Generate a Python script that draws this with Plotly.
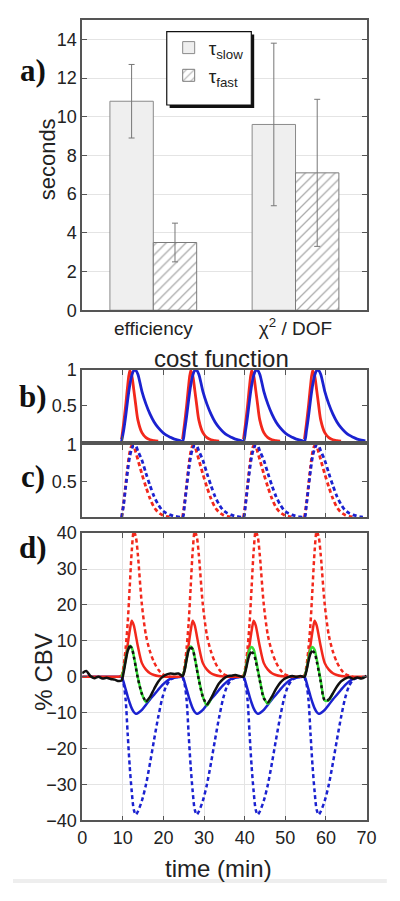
import plotly.graph_objects as go

N = None
# ---------------- panel a data ----------------
categories = ["efficiency", "χ<sup>2</sup> / DOF"]
tau_slow = [10.8, 9.6]
tau_slow_err = [1.9, 4.2]
tau_fast = [3.5, 7.1]
tau_fast_err = [1.0, 3.8]
a_ticks = [0, 2, 4, 6, 8, 10, 12, 14]

# ---------------- time grid (min) ----------------
T = [0, 1, 2, 3, 4, 5, 6, 7, 8, 9,
     9.7, 10.2, 10.7, 11.2, 11.7, 12.2, 12.7, 13.2, 13.7, 14.7, 15.7, 16.7, 17.7, 18.7, 19.7, 20.7, 21.7, 22.7, 23.7,
     24.7, 25.2, 25.7, 26.2, 26.7, 27.2, 27.7, 28.2, 28.7, 29.7, 30.7, 31.7, 32.7, 33.7, 34.7, 35.7, 36.7, 37.7, 38.7,
     39.7, 40.2, 40.7, 41.2, 41.7, 42.2, 42.7, 43.2, 43.7, 44.7, 45.7, 46.7, 47.7, 48.7, 49.7, 50.7, 51.7, 52.7, 53.7,
     54.7, 55.2, 55.7, 56.2, 56.7, 57.2, 57.7, 58.2, 58.7, 59.7, 60.7, 61.7, 62.7, 63.7, 64.7, 65.7, 66.7, 67.7, 68.7,
     69.7, 70]

# panel b (normalised, solid)
b_red = [N]*10 + \
    [0.03, 0.25, 0.5, 0.78, 0.99, 0.92, 0.72, 0.5, 0.3, 0.12, 0.05, 0.02, 0.008, 0.0, N, N, N, N, N] + \
    [0.03, 0.25, 0.5, 0.78, 0.99, 0.92, 0.72, 0.5, 0.3, 0.12, 0.05, 0.02, 0.008, 0.0, N, N, N, N, N] + \
    [0.03, 0.25, 0.5, 0.78, 0.99, 0.92, 0.72, 0.5, 0.3, 0.12, 0.05, 0.02, 0.008, 0.0, N, N, N, N, N] + \
    [0.03, 0.25, 0.5, 0.78, 0.99, 0.92, 0.72, 0.5, 0.3, 0.12, 0.05, 0.02, 0.008, 0.0, N, N, N, N, N] + \
    [N, N]
b_blue = [N]*10 + \
    [0.0, 0.15, 0.35, 0.58, 0.78, 0.92, 0.99, 0.99, 0.94, 0.7, 0.52, 0.38, 0.27, 0.19, 0.13, 0.085, 0.055, 0.03, 0.015] + \
    [0.0, 0.15, 0.35, 0.58, 0.78, 0.92, 0.99, 0.99, 0.94, 0.7, 0.52, 0.38, 0.27, 0.19, 0.13, 0.085, 0.055, 0.03, 0.015] + \
    [0.0, 0.15, 0.35, 0.58, 0.78, 0.92, 0.99, 0.99, 0.94, 0.7, 0.52, 0.38, 0.27, 0.19, 0.13, 0.085, 0.055, 0.03, 0.015] + \
    [0.0, 0.15, 0.35, 0.58, 0.78, 0.92, 0.99, 0.99, 0.94, 0.7, 0.52, 0.38, 0.27, 0.19, 0.13, 0.085, 0.055, 0.03, 0.015] + \
    [0.006, N]

# panel c (normalised, dashed)
c_red = [N]*10 + \
    [0.0, 0.2, 0.45, 0.7, 0.9, 0.99, 0.98, 0.9, 0.8, 0.6, 0.42, 0.26, 0.14, 0.07, 0.035, 0.015, 0.005, N, N] + \
    [0.0, 0.2, 0.45, 0.7, 0.9, 0.99, 0.98, 0.9, 0.8, 0.6, 0.42, 0.26, 0.14, 0.07, 0.035, 0.015, 0.005, N, N] + \
    [0.0, 0.2, 0.45, 0.7, 0.9, 0.99, 0.98, 0.9, 0.8, 0.6, 0.42, 0.26, 0.14, 0.07, 0.035, 0.015, 0.005, N, N] + \
    [0.0, 0.2, 0.45, 0.7, 0.9, 0.99, 0.98, 0.9, 0.8, 0.6, 0.42, 0.26, 0.14, 0.07, 0.035, 0.015, 0.005, N, N] + \
    [N, N]
c_blue = [N]*10 + \
    [0.0, 0.18, 0.42, 0.65, 0.84, 0.95, 1.0, 0.99, 0.92, 0.79, 0.61, 0.44, 0.29, 0.18, 0.1, 0.06, 0.035, 0.018, 0.008] + \
    [0.0, 0.18, 0.42, 0.65, 0.84, 0.95, 1.0, 0.99, 0.92, 0.79, 0.61, 0.44, 0.29, 0.18, 0.1, 0.06, 0.035, 0.018, 0.008] + \
    [0.0, 0.18, 0.42, 0.65, 0.84, 0.95, 1.0, 0.99, 0.92, 0.79, 0.61, 0.44, 0.29, 0.18, 0.1, 0.06, 0.035, 0.018, 0.008] + \
    [0.0, 0.18, 0.42, 0.65, 0.84, 0.95, 1.0, 0.99, 0.92, 0.79, 0.61, 0.44, 0.29, 0.18, 0.1, 0.06, 0.035, 0.018, 0.008] + \
    [0.003, N]

# panel d (% CBV)
d_red_solid = [0]*10 + \
    [0.3, 2.0, 5.5, 9.0, 12.8, 15.6, 14.3, 11.5, 8.5, 3.8, 2.0, 1.0, 0.5, 0.2, 0.1, 0.0, 0, 0, 0] + \
    [0.3, 2.0, 5.5, 9.0, 12.8, 15.6, 14.3, 11.5, 8.5, 3.8, 2.0, 1.0, 0.5, 0.2, 0.1, 0.0, 0, 0, 0] + \
    [0.3, 2.0, 5.5, 9.0, 12.8, 15.6, 14.3, 11.5, 8.5, 3.8, 2.0, 1.0, 0.5, 0.2, 0.1, 0.0, 0, 0, 0] + \
    [0.3, 2.0, 5.5, 9.0, 12.8, 15.6, 14.3, 11.5, 8.5, 3.8, 2.0, 1.0, 0.5, 0.2, 0.1, 0.0, 0, 0, 0] + \
    [0, 0]
d_red_dash = [N]*10 + \
    [0, 3, 8, 15, 25, 35, 40.5, 39, 34, 20, 11.5, 7, 4, 2, 0.8, 0.3, 0, N, N] + \
    [0, 3, 8, 15, 25, 35, 40.5, 39, 34, 20, 11.5, 7, 4, 2, 0.8, 0.3, 0, N, N] + \
    [0, 3, 8, 15, 25, 35, 40.5, 39, 34, 20, 11.5, 7, 4, 2, 0.8, 0.3, 0, N, N] + \
    [0, 3, 8, 15, 25, 35, 40.5, 39, 34, 20, 11.5, 7, 4, 2, 0.8, 0.3, 0, N, N] + \
    [N, N]
d_blue_solid = [0]*10 + \
    [0, -1.5, -3.5, -5.5, -7.3, -8.8, -9.8, -10.3, -10.1, -9.2, -7.8, -6.3, -5.0, -3.6, -2.3, -1.3, -0.6, -0.25, -0.1] + \
    [0, -1.5, -3.5, -5.5, -7.3, -8.8, -9.8, -10.3, -10.1, -9.2, -7.8, -6.3, -5.0, -3.6, -2.3, -1.3, -0.6, -0.25, -0.1] + \
    [0, -1.5, -3.5, -5.5, -7.3, -8.8, -9.8, -10.3, -10.1, -9.2, -7.8, -6.3, -5.0, -3.6, -2.3, -1.3, -0.6, -0.25, -0.1] + \
    [0, -1.5, -3.5, -5.5, -7.3, -8.8, -9.8, -10.3, -10.1, -9.2, -7.8, -6.3, -5.0, -3.6, -2.3, -1.3, -0.6, -0.25, -0.1] + \
    [0, 0]
d_blue_dash = [N]*10 + \
    [0, -2, -6.5, -16, -25, -32, -37, -38.4, -37.5, -34.5, -30, -24, -17.5, -11.3, -6, -2.5, -0.8, -0.2, N] + \
    [0, -2, -6.5, -16, -25, -32, -37, -38.4, -37.5, -34.5, -30, -24, -17.5, -11.3, -6, -2.5, -0.8, -0.2, N] + \
    [0, -2, -6.5, -16, -25, -32, -37, -38.4, -37.5, -34.5, -30, -24, -17.5, -11.3, -6, -2.5, -0.8, -0.2, N] + \
    [0, -2, -6.5, -16, -25, -32, -37, -38.4, -37.5, -34.5, -30, -24, -17.5, -11.3, -6, -2.5, -0.8, -0.2, N] + \
    [N, N]
d_green = [N]*10 + \
    [0.0, 1.8, 4.8, 7.4, 8.6, 8.1, 5.8, 2.8, -0.2, -4.8, -7.0, -5.8, N, N, N, N, N, N, N] + \
    [0.2, 2.0, 5.0, 7.6, 8.4, 7.8, 5.4, 2.4, -0.6, -5.6, -8.0, -6.2, N, N, N, N, N, N, N] + \
    [0.0, 2.0, 5.0, 7.6, 8.3, 7.6, 5.2, 2.2, -0.8, -5.8, -7.5, -5.6, N, N, N, N, N, N, N] + \
    [0.0, 2.0, 5.0, 7.6, 8.3, 7.5, 5.0, 2.0, -1.0, -6.6, -6.5, -4.6, N, N, N, N, N, N, N] + \
    [N, N]
d_black = [1.0, 1.6, 0.2, -0.4, 0.0, -0.5, -0.3, -0.6, -0.8, -1.2] + \
    [-1.0, 1.2, 4.4, 7.2, 8.6, 8.0, 5.6, 2.6, -0.4, -4.8, -7.0, -5.6, -3.4, -1.4, -0.1, 0.6, 0.9, 0.8, 0.9] + \
    [0.2, 1.8, 4.8, 7.4, 8.2, 7.6, 5.2, 2.2, -0.8, -5.6, -7.9, -6.0, -3.8, -1.8, -0.6, 0.1, 0.3, 0.5, 0.2] + \
    [0.0, 1.6, 4.2, 6.2, 6.9, 6.4, 4.4, 1.8, -1.0, -6.0, -7.3, -5.5, -3.4, -1.7, -0.6, -0.1, 0.2, 0.0, 0.2] + \
    [0.0, 1.7, 4.4, 6.5, 7.2, 6.6, 4.4, 1.6, -1.4, -6.6, -6.4, -4.6, -2.7, -1.3, -0.5, -0.1, -0.6, -0.2, -0.5] + \
    [0.0, 0.3]
# time windows in which the measured trace is drawn dotted (peak to trough)
dotted_windows = [(11.7, 15.7), (26.7, 30.7), (41.7, 45.7), (56.7, 60.7)]
d_ticks = [-40, -30, -20, -10, 0, 10, 20, 30, 40]
t_ticks = [0, 10, 20, 30, 40, 50, 60, 70]

black_solid = [None if any(a < t < b for a, b in dotted_windows) else v for t, v in zip(T, d_black)]
black_dotted = [v if any(a <= t <= b for a, b in dotted_windows) else None for t, v in zip(T, d_black)]

RED = "#f2281c"
BLUE = "#1b22d0"
GREEN = "#35dd35"
FONT = "Liberation Sans, Arial, sans-serif"
AX = "#555555"
GRID = "#e4e4e4"

fig = go.Figure()

# panel a bars
fig.add_trace(go.Bar(
    x=categories, y=tau_slow, name="τ<sub>slow</sub>",
    marker=dict(color="#efefef", line=dict(color="#8a8a8a", width=1)),
    error_y=dict(type="data", array=tau_slow_err, color="#777777", thickness=1, width=3),
    xaxis="x", yaxis="y"))
fig.add_trace(go.Bar(
    x=categories, y=tau_fast, name="τ<sub>fast</sub>",
    marker=dict(color="white", line=dict(color="#7a7a7a", width=1),
                pattern=dict(shape="/", fgcolor="#555555", bgcolor="white", size=7, solidity=0.18)),
    error_y=dict(type="data", array=tau_fast_err, color="#777777", thickness=1, width=3),
    xaxis="x", yaxis="y"))

def line(y, color, ax, width=2.6, dash="solid"):
    return go.Scatter(x=T, y=y, mode="lines", showlegend=False, hoverinfo="skip",
                      line=dict(color=color, width=width, dash=dash, shape="spline", smoothing=0.8),
                      xaxis="x" + ax, yaxis="y" + ax)

# panel b
fig.add_trace(line(b_red, RED, "2", 2.8))
fig.add_trace(line(b_blue, BLUE, "2", 2.8))
# panel c
fig.add_trace(line(c_red, RED, "3", 2.8, "4px,3px"))
fig.add_trace(line(c_blue, BLUE, "3", 2.8, "4px,3px"))
# panel d
fig.add_trace(line(d_red_dash, RED, "4", 2.5, "4px,3px"))
fig.add_trace(line(d_blue_dash, BLUE, "4", 2.5, "4px,3px"))
fig.add_trace(line(d_blue_solid, BLUE, "4", 2.5))
fig.add_trace(line(d_red_solid, RED, "4", 2.5))
fig.add_trace(line(d_green, GREEN, "4", 2.5))
fig.add_trace(line(black_solid, "#111111", "4", 2.5))
fig.add_trace(line(black_dotted, "#111111", "4", 2.5, "dot"))

# the page body keeps its default 8px margin, so the figure is sized to fill the
# 400x901 window exactly and page coordinates are converted to figure fractions
OFF = 8
W, H = 400 - 2 * OFF, 901 - 2 * OFF
def px(x):
    return (x - OFF) / W
def py(y):
    return 1 - (y - OFF) / H

xdom = [px(80), px(376)]
axis_common = dict(showline=True, linecolor=AX, linewidth=1.5, mirror="ticks",
                   ticks="inside", ticklen=5, tickcolor=AX, zeroline=False,
                   tickfont=dict(family=FONT, size=18, color="#222222"))

fig.update_layout(
    width=W, height=H, margin=dict(l=0, r=0, t=0, b=0),
    paper_bgcolor="white", plot_bgcolor="white",
    font=dict(family=FONT, color="#222222"),
    barmode="group", bargap=0.39, bargroupgap=0.0,
    xaxis=dict(domain=xdom, anchor="y", type="category", range=[-0.5, 1.5],
               showline=True, linecolor=AX, linewidth=1.5, mirror=True, ticks="",
               tickfont=dict(family=FONT, size=19, color="#222222"), showgrid=False),
    yaxis=dict(domain=[py(307), py(10)], anchor="x", range=[0, 15], tickvals=a_ticks,
               showgrid=True, gridcolor=GRID, **axis_common),
    xaxis2=dict(domain=xdom, anchor="y2", range=[0, 70], tickvals=t_ticks, showticklabels=False,
                showgrid=True, gridcolor=GRID, **axis_common),
    yaxis2=dict(domain=[py(441), py(368)], anchor="x2", range=[0, 1.0], tickvals=[0.5, 1],
                ticktext=["0.5", "1"], showgrid=False, **axis_common),
    xaxis3=dict(domain=xdom, anchor="y3", range=[0, 70], tickvals=t_ticks, showticklabels=False,
                showgrid=True, gridcolor=GRID, **axis_common),
    yaxis3=dict(domain=[py(519), py(445)], anchor="x3", range=[0, 1.0], tickvals=[0.5, 1],
                ticktext=["0.5", "1"], showgrid=False, **axis_common),
    xaxis4=dict(domain=xdom, anchor="y4", range=[0, 70], tickvals=t_ticks,
                showgrid=True, gridcolor=GRID, **axis_common),
    yaxis4=dict(domain=[py(829), py(535)], anchor="x4", range=[-40, 40], tickvals=d_ticks,
                showgrid=True, gridcolor=GRID, **axis_common),
    legend=dict(x=px(170), y=py(19), xanchor="left", yanchor="top",
                bgcolor="rgba(0,0,0,0)", borderwidth=0,
                font=dict(family=FONT, size=19, color="#222222"), tracegroupgap=4),
    showlegend=True,
)

shapes = [
    # legend drop shadow and box
    dict(type="rect", xref="paper", yref="paper", x0=px(171), x1=px(259), y0=py(100), y1=py(25),
         fillcolor="#111111", line=dict(width=0), layer="above"),
    dict(type="rect", xref="paper", yref="paper", x0=px(168), x1=px(256), y0=py(97), y1=py(22),
         fillcolor="white", line=dict(color="#111111", width=1.2), layer="above"),
    # faint band at bottom of the figure
    dict(type="rect", xref="paper", yref="paper", x0=px(8), x1=px(397), y0=0, y1=py(889),
         fillcolor="#eeeeee", line=dict(width=0), layer="below"),
]
fig.update_layout(shapes=shapes)

SERIF = "Liberation Serif, Times New Roman, serif"
ann = []
for lab, yy in [("a)", 62), ("b)", 395), ("c)", 477), ("d)", 550)]:
    ann.append(dict(text="<b>" + lab + "</b>", x=px(29), y=py(yy), xref="paper", yref="paper",
                    showarrow=False, xanchor="center", yanchor="middle",
                    font=dict(family=SERIF, size=31, color="#111111")))
ann.append(dict(text="seconds", x=px(44), y=py(153), xref="paper", yref="paper", textangle=-90,
                showarrow=False, xanchor="center", yanchor="middle", font=dict(family=FONT, size=22, color="#222222")))
ann.append(dict(text="cost function", x=px(225), y=py(356), xref="paper", yref="paper",
                showarrow=False, xanchor="center", yanchor="middle", font=dict(family=FONT, size=24, color="#222222")))
ann.append(dict(text="% CBV", x=px(40), y=py(677), xref="paper", yref="paper", textangle=-90,
                showarrow=False, xanchor="center", yanchor="middle", font=dict(family=FONT, size=24, color="#222222")))
ann.append(dict(text="time (min)", x=px(222), y=py(878), xref="paper", yref="paper",
                showarrow=False, xanchor="center", yanchor="middle", font=dict(family=FONT, size=24, color="#222222")))
fig.update_layout(annotations=ann)

fig.write_html("out.html", config={"displayModeBar": False})
